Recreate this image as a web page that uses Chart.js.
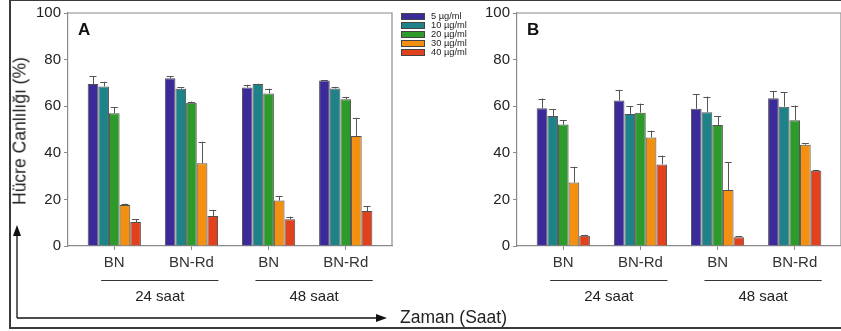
<!DOCTYPE html>
<html>
<head>
<meta charset="utf-8">
<script src="https://cdn.jsdelivr.net/npm/chart.js@4.4.1/dist/chart.umd.min.js"></script>
<style>
  html,body{margin:0;padding:0;background:#fff;}
  #stage{position:relative;width:841px;height:331px;overflow:hidden;background:#fff;font-family:"Liberation Sans",Arial,sans-serif;}
  .frame{position:absolute;left:9px;top:-1px;width:850px;height:326px;border:2px solid #3a3a3a;}
  .panel{position:absolute;top:0;height:331px;}
  #panelA{left:0;width:400px;}
  #panelB{left:449px;width:392px;}
  .letter{position:absolute;top:20px;font-weight:bold;font-size:17px;color:#111;}
  #legend{position:absolute;left:401px;top:12px;}
  .lg-row{display:flex;align-items:center;height:9px;}
  .lg-sw{width:22px;height:5px;border:1px solid #444;margin-right:6px;}
  .lg-tx{font-size:9.3px;color:#222;line-height:9px;}
  #ytitle{position:absolute;left:20px;top:131px;transform:translate(-50%,-50%) rotate(-90deg);white-space:nowrap;font-size:17.5px;color:#222;}
  #xtitle{position:absolute;left:400px;top:307px;font-size:17.5px;color:#222;white-space:nowrap;}
  svg.arrows{position:absolute;left:0;top:0;}
</style>
</head>
<body>
<div id="stage">
  <div class="frame"></div>
  <div class="panel" id="panelA"><canvas id="chartA"></canvas></div>
  <div class="panel" id="panelB"><canvas id="chartB"></canvas></div>
  <div class="letter" style="left:78px">A</div>
  <div class="letter" style="left:527px">B</div>
  <div id="legend"></div>
  <div id="ytitle">Hücre Canlılığı (%)</div>
  <div id="xtitle">Zaman (Saat)</div>
  <svg class="arrows" width="841" height="331">
    <line x1="17" y1="318" x2="17" y2="234" stroke="#111" stroke-width="1.3"/>
    <polygon points="17,225 13,236 21,236" fill="#111"/>
    <line x1="17" y1="318" x2="377" y2="318" stroke="#111" stroke-width="1.3"/>
    <polygon points="387,318 376,314 376,322" fill="#111"/>
  </svg>
</div>
<script>
const categories=['BN','BN-Rd','BN','BN-Rd'];
const groupLabels=['24 saat','48 saat'];
const groupMembers=[[0,1],[2,3]];
const seriesNames=['5 µg/ml','10 µg/ml','20 µg/ml','30 µg/ml','40 µg/ml'];
const seriesColors=['#3b2b98','#1e8389','#2f9a2c','#f39012','#e2411d'];
const yTicks=[0,20,40,60,80,100];

// Panel A: mean values and upper error bar ends, per concentration
const a5=[69.5,72,68,71],     a5Err=[73,72.8,69.2,71.2];
const a10=[68.5,67.5,69.5,67.6], a10Err=[70.5,68.2,69.7,68.3];
const a20=[57,61.5,65.5,63],  a20Err=[59.5,62,67.5,64];
const a30=[17.6,35.5,19.5,47.2], a30Err=[18.2,44.8,21.4,55];
const a40=[10.3,12.9,11.5,15],  a40Err=[11.5,15.5,12.6,17.2];

// Panel B
const b5=[59.1,62.4,58.9,63.4],  b5Err=[63.3,67,65.1,66.6];
const b10=[55.8,56.7,57.4,59.8], b10Err=[58.8,59.9,64.1,66];
const b20=[52.1,57.2,51.9,54],   b20Err=[53.9,61.1,55.8,60.3];
const b30=[27.2,46.6,24,43.5],   b30Err=[34,49.5,35.9,44];
const b40=[4.4,35,3.8,32.3],     b40Err=[4.8,38.8,4.1,32.6];

const FONT='"Liberation Sans", Arial, sans-serif';
const AXIS='#8a8a8a';

// legend
document.getElementById('legend').innerHTML=seriesNames.map((n,i)=>
  `<div class="lg-row"><span class="lg-sw" style="background:${seriesColors[i]}"></span><span class="lg-tx">${n}</span></div>`).join('');

const boxPlugin={
  id:'boxPlugin',
  afterDraw(chart){
    const {ctx,chartArea:a}=chart;
    ctx.save();
    ctx.strokeStyle=AXIS;ctx.lineWidth=1.2;
    ctx.beginPath();
    ctx.moveTo(a.left,a.top);ctx.lineTo(a.right,a.top);ctx.lineTo(a.right,a.bottom);
    ctx.stroke();
    ctx.restore();
  }
};

const errPlugin={
  id:'errPlugin',
  afterDatasetsDraw(chart){
    const ctx=chart.ctx, y=chart.scales.y;
    ctx.save();
    ctx.strokeStyle='#555';ctx.lineWidth=1;
    chart.data.datasets.forEach((ds,di)=>{
      const meta=chart.getDatasetMeta(di);
      meta.data.forEach((bar,i)=>{
        const top=y.getPixelForValue(ds.errTop[i]);
        const base=bar.y;
        ctx.beginPath();
        ctx.moveTo(Math.round(bar.x)+0.5,base);ctx.lineTo(Math.round(bar.x)+0.5,top);
        ctx.moveTo(bar.x-3.5,Math.round(top)+0.5);ctx.lineTo(bar.x+3.5,Math.round(top)+0.5);
        ctx.stroke();
      });
    });
    ctx.restore();
  }
};

const groupPlugin={
  id:'groupPlugin',
  afterDraw(chart){
    const ctx=chart.ctx, x=chart.scales.x;
    ctx.save();
    ctx.strokeStyle='#333';ctx.lineWidth=1.2;
    ctx.fillStyle='#222';ctx.font='15px '+FONT;
    ctx.textAlign='center';ctx.textBaseline='middle';
    groupMembers.forEach((m,g)=>{
      const x1=x.getPixelForValue(m[0]-0.17), x2=x.getPixelForValue(m[m.length-1]+0.35);
      const ly=x.top+34.5;
      ctx.beginPath();ctx.moveTo(x1,ly);ctx.lineTo(x2,ly);ctx.stroke();
      ctx.fillText(groupLabels[g],(x1+x2)/2,x.top+51);
    });
    ctx.restore();
  }
};

function makeChart(id,values,errs,padRight){
  const datasets=values.map((vals,i)=>({
    label:seriesNames[i],
    data:vals.map((v,k)=>({x:k,y:v})),
    errTop:errs[i],
    backgroundColor:seriesColors[i],
    borderColor:'rgba(50,50,50,0.85)',
    borderWidth:1,
    categoryPercentage:0.69,
    barPercentage:1
  }));
  return new Chart(document.getElementById(id),{
    type:'bar',
    data:{datasets},
    options:{
      responsive:true,
      maintainAspectRatio:false,
      animation:false,
      layout:{padding:{top:13,right:padRight,left:0,bottom:0}},
      plugins:{legend:{display:false},tooltip:{enabled:false}},
      scales:{
        x:{
          type:'linear',min:-0.6,max:3.6,offset:false,
          grid:{offset:false,drawOnChartArea:false,drawTicks:true,tickLength:4,color:AXIS},
          border:{color:AXIS,width:1.2},
          ticks:{stepSize:1,includeBounds:false,autoSkip:false,maxRotation:0,padding:4,color:'#333',
            font:{size:15,family:FONT},callback:v=>categories[v]??''},
          afterFit:s=>{s.height=85;}
        },
        y:{
          min:0,max:100,
          grid:{drawOnChartArea:false,drawTicks:true,tickLength:4,color:AXIS},
          border:{color:AXIS,width:1.2},
          ticks:{stepSize:20,padding:3,color:'#222',font:{size:15,family:FONT},
            callback:v=>yTicks.includes(v)?String(v):''},
          afterFit:s=>{s.width=68;}
        }
      }
    },
    plugins:[boxPlugin,errPlugin,groupPlugin]
  });
}

makeChart('chartA',[a5,a10,a20,a30,a40],[a5Err,a10Err,a20Err,a30Err,a40Err],8);
makeChart('chartB',[b5,b10,b20,b30,b40],[b5Err,b10Err,b20Err,b30Err,b40Err],0);
</script>
</body>
</html>
